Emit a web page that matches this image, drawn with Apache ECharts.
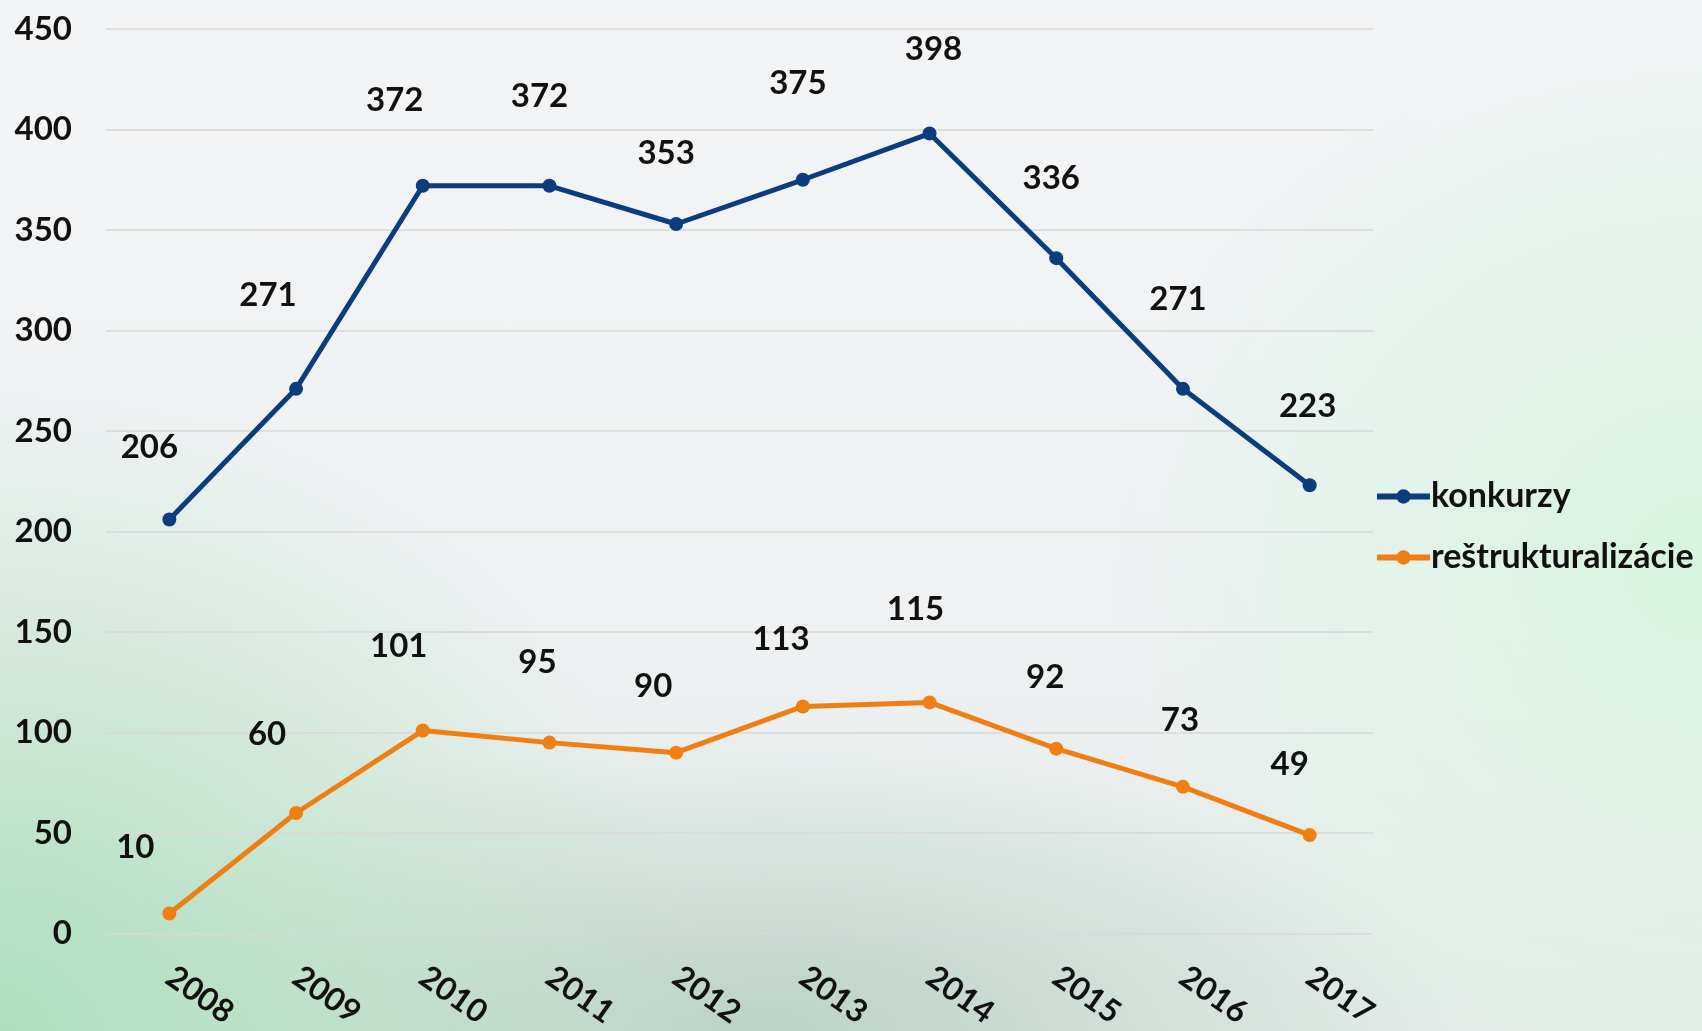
<!DOCTYPE html>
<html>
<head>
<meta charset="utf-8">
<script src="https://cdn.jsdelivr.net/npm/echarts@6/dist/echarts.min.js"></script>
<style>
  html, body { margin: 0; padding: 0; }
  body {
    width: 1702px; height: 1031px; overflow: hidden;
    background:
      radial-gradient(ellipse 700px 650px at 0% 100%, rgba(170,222,185,0.95), rgba(170,222,185,0) 100%),
      radial-gradient(ellipse 600px 550px at 100% 55%, rgba(212,245,222,0.95), rgba(212,245,222,0) 100%),
      radial-gradient(ellipse 700px 300px at 45% 100%, rgba(175,205,190,0.8), rgba(175,205,190,0) 100%),
      linear-gradient(180deg, #f2f4f6 0%, #eff1f3 60%, #e4ebe8 100%);
  }
  #main { width: 1702px; height: 1031px; }
</style>
</head>
<body>
<div id="main"></div>
<script>
// roky
const years = ['2008', '2009', '2010', '2011', '2012', '2013', '2014', '2015', '2016', '2017'];
// počty konaní
const konkurzy = [206, 271, 372, 372, 353, 375, 398, 336, 271, 223];
const restrukturalizacie = [10, 60, 101, 95, 90, 113, 115, 92, 73, 49];

// posun popisiek (ako v exceli, rucne posunute)
const konkurzyLabelShift = [[-20, -72], [-28, -93], [-28, -85], [-10, -89], [-10, -71],
  [-5, -96], [4, -84], [-5, -80], [-5, -89], [-2, -79]];
const restrLabelShift = [[-34, -66], [-29, -79], [-24, -84], [-12, -80], [-23, -66],
  [-22, -67], [-14, -93], [-11, -71], [-3, -66], [-20, -71]];

const font = 'Lato, "Open Sans", sans-serif';

function withLabels(values, shifts) {
  return values.map((v, i) => ({ value: v, label: { offset: shifts[i] } }));
}

let myChart = echarts.init(document.getElementById('main'));
let option = {
  backgroundColor: 'transparent',
  textStyle: { fontFamily: font },
  grid: { left: 106, right: 329, top: 29, bottom: 94, containLabel: false },
  legend: {
    orient: 'vertical',
    left: 1369,
    top: 473,
    itemWidth: 53,
    itemHeight: 18,
    itemGap: 24,
    lineStyle: { width: 6 },
    textStyle: { fontFamily: font, fontSize: 34, fontWeight: 'bold', color: '#111', lineHeight: 37, padding: [0, 0, 0, -4] },
    data: ['konkurzy', 'reštrukturalizácie']
  },
  xAxis: {
    type: 'category',
    data: years,
    boundaryGap: true,
    axisLine: { show: false },
    axisTick: { show: false },
    axisLabel: { rotate: -35, margin: 40, fontSize: 32, fontWeight: 'bold', fontFamily: font, color: '#111' }
  },
  yAxis: {
    type: 'value',
    min: 0,
    max: 450,
    interval: 50,
    axisLine: { show: false },
    axisTick: { show: false },
    axisLabel: { margin: 34, fontSize: 33, fontWeight: 'bold', fontFamily: font, color: '#111' },
    splitLine: { lineStyle: { color: '#d9d9d9', width: 1.5 } }
  },
  series: [
    {
      name: 'konkurzy',
      type: 'line',
      data: withLabels(konkurzy, konkurzyLabelShift),
      symbol: 'circle',
      symbolSize: 14,
      color: '#0b3d7e',
      lineStyle: { width: 5, color: '#0b3d7e' },
      label: {
        show: true, position: 'inside',
        fontSize: 33, fontWeight: 'bold', fontFamily: font, color: '#111'
      }
    },
    {
      name: 'reštrukturalizácie',
      type: 'line',
      data: withLabels(restrukturalizacie, restrLabelShift),
      symbol: 'circle',
      symbolSize: 14,
      color: '#ef7f13',
      lineStyle: { width: 5, color: '#ef7f13' },
      label: {
        show: true, position: 'inside',
        fontSize: 33, fontWeight: 'bold', fontFamily: font, color: '#111'
      }
    }
  ]
};
myChart.setOption(option);
</script>
</body>
</html>
